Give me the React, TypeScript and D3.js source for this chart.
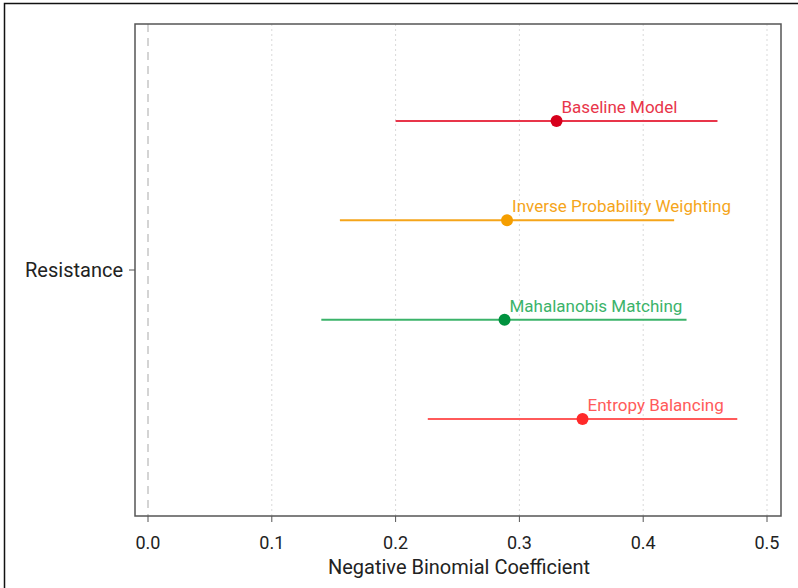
import React from "react";
import { scaleLinear } from "d3";

const models = ["Baseline Model", "Inverse Probability Weighting", "Mahalanobis Matching", "Entropy Balancing"];
const estimates = [0.33, 0.29, 0.288, 0.351];
const lower = [0.2, 0.155, 0.14, 0.226];
const upper = [0.46, 0.425, 0.435, 0.476];
const pointColors = ["#d7001c", "#f59e00", "#00923f", "#ff2a2a"];
const lineColors = ["#e8354a", "#f5a51a", "#3bb36a", "#ff5a5a"];
const xTicks = [0, 0.1, 0.2, 0.3, 0.4, 0.5];

const width = 798;
const height = 588;
const panel = { left: 135, top: 24, right: 781, bottom: 516 };

const App = () => {
  const xScale = scaleLinear().domain([0, 0.5]).range([148, 767]);
  const yScale = scaleLinear().domain([0, models.length - 1]).range([121, 419]);

  return (
    <svg
      width={width}
      height={height}
      style={{ position: "fixed", left: 0, top: 0, fontFamily: "Roboto, sans-serif" }}
    >
      <rect x={0} y={0} width={width} height={height} fill="#fff" />
      <rect x={4.5} y={3.5} width={width + 10} height={height + 10} fill="none" stroke="#111" strokeWidth={1.5} />

      {/* grid */}
      {xTicks.slice(1).map((t) => (
        <line
          key={t}
          x1={xScale(t)}
          x2={xScale(t)}
          y1={panel.top}
          y2={panel.bottom}
          stroke="#d9d9d9"
          strokeDasharray="2,3"
        />
      ))}
      <line
        x1={xScale(0)}
        x2={xScale(0)}
        y1={panel.top}
        y2={panel.bottom}
        stroke="#d4d4d4"
        strokeWidth={2}
        strokeDasharray="8,6"
      />

      {/* estimates */}
      {models.map((m, i) => (
        <g key={m}>
          <line
            x1={xScale(lower[i])}
            x2={xScale(upper[i])}
            y1={yScale(i)}
            y2={yScale(i)}
            stroke={lineColors[i]}
            strokeWidth={2}
          />
          <circle cx={xScale(estimates[i])} cy={yScale(i)} r={6} fill={pointColors[i]} />
          <text x={xScale(estimates[i]) + 5} y={yScale(i) - 8} fontSize={17} fill={lineColors[i]}>
            {m}
          </text>
        </g>
      ))}

      {/* panel border */}
      <rect
        x={panel.left}
        y={panel.top}
        width={panel.right - panel.left}
        height={panel.bottom - panel.top}
        fill="none"
        stroke="#555"
        strokeWidth={1.5}
      />

      {/* x axis */}
      {xTicks.map((t) => (
        <g key={t}>
          <line x1={xScale(t)} x2={xScale(t)} y1={panel.bottom} y2={panel.bottom + 6} stroke="#555" />
          <text x={xScale(t)} y={549} textAnchor="middle" fontSize={18} fill="#222">
            {t.toFixed(1)}
          </text>
        </g>
      ))}
      <text x={459} y={574} textAnchor="middle" fontSize={20} fill="#222">
        Negative Binomial Coefficient
      </text>

      {/* y axis */}
      <line x1={panel.left - 6} x2={panel.left} y1={270} y2={270} stroke="#555" />
      <text x={panel.left - 12} y={277} textAnchor="end" fontSize={20} fill="#222">
        Resistance
      </text>
    </svg>
  );
};

export default App;
